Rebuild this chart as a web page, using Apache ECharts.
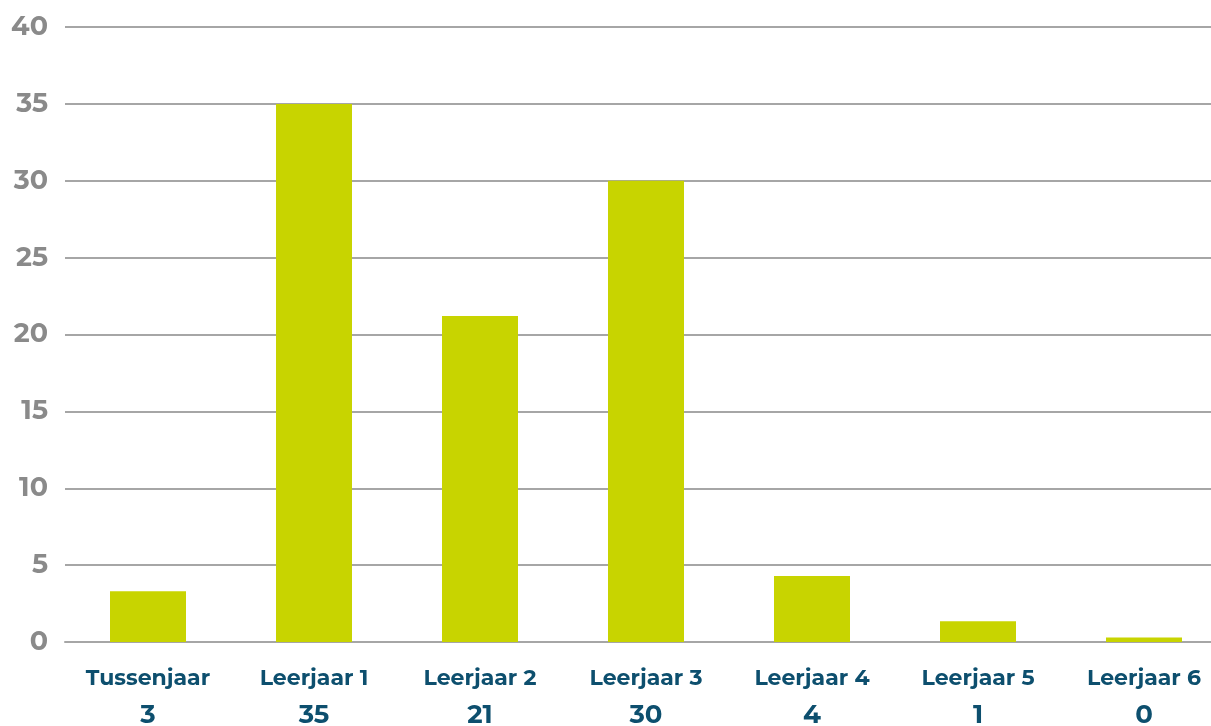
<!DOCTYPE html>
<html>
<head>
<meta charset="utf-8">
<script src="https://cdn.jsdelivr.net/npm/echarts@6/dist/echarts.min.js"></script>
<style>
    html, body { margin: 0; padding: 0; background: #fff; }
    #chart { width: 1211px; height: 726px; }
</style>
</head>
<body>
<div id="chart"></div>
<script>
// categorieën en waarden
const categories = ['Tussenjaar', 'Leerjaar 1', 'Leerjaar 2', 'Leerjaar 3', 'Leerjaar 4', 'Leerjaar 5', 'Leerjaar 6'];
const shownCounts = [3, 35, 21, 30, 4, 1, 0];
const barValues = [3.3, 35, 21.2, 30, 4.3, 1.35, 0.3];

const font = 'Montserrat, Inter, "Open Sans", sans-serif';

const chart = echarts.init(document.getElementById('chart'));
chart.setOption({
    animation: false,
    grid: { left: 65, right: -16, top: 27, bottom: 84, outerBoundsMode: 'none', containLabel: false },
    xAxis: {
        type: 'category',
        data: categories,
        axisTick: { show: false },
        axisLine: { lineStyle: { color: '#a6a6a6', width: 2 } },
        axisLabel: {
            margin: 20,
            interval: 0,
            formatter: (name, i) => `{n|${ name }}\n{v|${ shownCounts[i] }}`,
            rich: {
                n: { fontFamily: font, fontWeight: 'bold', fontSize: 22, color: '#0d4f6e', lineHeight: 34 },
                v: { fontFamily: font, fontWeight: 'bold', fontSize: 26, color: '#0d4f6e', lineHeight: 38 },
            },
        },
    },
    yAxis: {
        type: 'value',
        min: 0,
        max: 40,
        interval: 5,
        axisLine: { show: false },
        axisTick: { show: false },
        splitLine: { lineStyle: { color: '#a6a6a6', width: 2 } },
        axisLabel: {
            margin: 17,
            fontFamily: font,
            fontWeight: 'bold',
            fontSize: 27,
            color: '#8a8a8a',
        },
    },
    series: [{
        type: 'bar',
        data: barValues,
        barWidth: 76,
        itemStyle: { color: '#c8d400' },
    }],
});
</script>
</body>
</html>
